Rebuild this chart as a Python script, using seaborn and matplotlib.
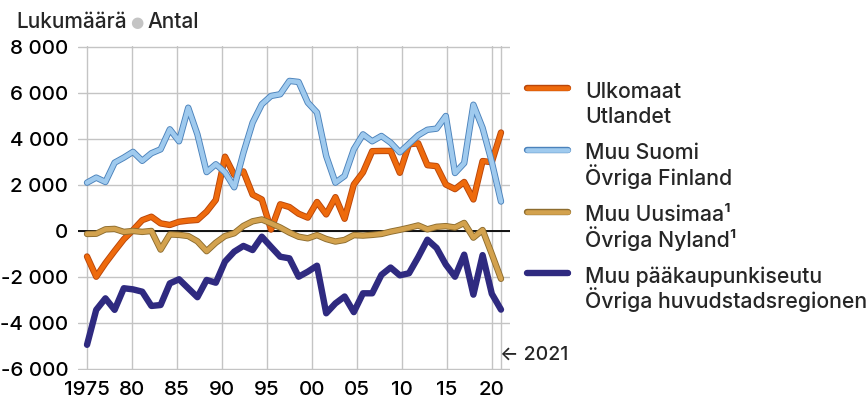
import numpy as np
import pandas as pd
import matplotlib
matplotlib.use("Agg")
import matplotlib.pyplot as plt
import matplotlib.patheffects as pe
from matplotlib.lines import Line2D
import seaborn as sns

# Net migration by area, persons
series_fi = ["Ulkomaat", "Muu Suomi", "Muu Uusimaa¹", "Muu pääkaupunkiseutu"]
series_sv = ["Utlandet", "Övriga Finland", "Övriga Nyland¹", "Övriga huvudstadsregionen"]

ulkomaat = [-1110, -1990, -1400, -870, -360, 40, 470, 620, 330, 260,
            400, 450, 480, 840, 1350, 3230, 2440, 2590, 1580, 1370,
            60, 1160, 1040, 750, 580, 1260, 720, 1470, 530, 2020,
            2550, 3470, 3480, 3480, 2530, 3770, 3810, 2860, 2820, 2020,
            1820, 2130, 1370, 3040, 2990, 4280]
muu_suomi = [2100, 2320, 2130, 2970, 3190, 3440, 3050, 3380, 3550, 4420,
             3900, 5360, 4200, 2560, 2900, 2550, 1900, 3400, 4710, 5510,
             5870, 5945, 6525, 6480, 5580, 5150, 3260, 2100, 2390, 3550,
             4200, 3900, 4130, 3840, 3420, 3790, 4160, 4400, 4450, 5000,
             2520, 2950, 5490, 4480, 3000, 1280]
muu_uusimaa = [-130, -120, 70, 90, -40, 0, -40, 0, -810, -150,
               -170, -220, -450, -880, -510, -220, -100, 220, 420, 500,
               330, 150, -70, -250, -320, -180, -350, -460, -390, -180,
               -200, -170, -130, -30, 50, 140, 240, 70, 180, 210,
               150, 350, -290, 40, -1000, -2080]
muu_pks = [-4950, -3430, -2930, -3430, -2490, -2540, -2640, -3260, -3220, -2280,
           -2100, -2490, -2880, -2130, -2250, -1330, -900, -650, -830, -250,
           -690, -1120, -1190, -1990, -1770, -1510, -3580, -3150, -2850, -3530,
           -2710, -2710, -1910, -1590, -1930, -1840, -1140, -380, -740, -1460,
           -1990, -1030, -2770, -1050, -2730, -3420]

tick_years = [1975, 1980, 1985, 1990, 1995, 2000, 2005, 2010, 2015, 2020]
tick_labels = ["1975", "80", "85", "90", "95", "00", "05", "10", "15", "20"]
y_ticks = [-6000, -4000, -2000, 0, 2000, 4000, 6000, 8000]
first_year, last_year = 1975, 2021

core_colors = ["#ee6a0c", "#9fcaee", "#d3a24e", "#2f2a80"]
edge_colors = ["#b9460a", "#4b82bb", "#8d6c2e", "#2f2a80"]
grid_color = "#c4c4c4"

# the points are spread evenly from the 1975 line to the 2021 line
x = np.linspace(first_year, last_year, len(ulkomaat))
df = pd.DataFrame({
    "x": np.tile(x, 4),
    "value": ulkomaat + muu_suomi + muu_uusimaa + muu_pks,
    "series": np.repeat(series_fi, len(x)),
})

sns.set_style("white")
plt.rcParams["font.family"] = ["Inter", "DejaVu Sans"]
plt.rcParams["font.weight"] = 500

fig = plt.figure(figsize=(8.66, 4.03), dpi=100)
ax = fig.add_axes([0.0901, 0.0822, 0.4988, 0.8035])

sns.lineplot(data=df, x="x", y="value", hue="series", hue_order=series_fi,
             palette=dict(zip(series_fi, core_colors)), linewidth=3.3,
             sort=False, legend=False, ax=ax)
for line, edge in zip(ax.lines, edge_colors):
    line.set_path_effects([pe.Stroke(linewidth=4.6, foreground=edge), pe.Normal()])

ax.set_xlim(1974, 2022)
ax.set_ylim(-6040, 8040)
ax.set_xticks(tick_years)
ax.set_xticklabels(tick_labels)
ax.set_xticks([last_year], minor=True)
ax.set_yticks(y_ticks)
ax.set_yticklabels([f"{v:,}".replace(",", " ") for v in y_ticks])
ax.grid(which="both", axis="x", color=grid_color, lw=1.0)
ax.grid(which="major", axis="y", color=grid_color, lw=1.0)
ax.set_axisbelow(True)
ax.axhline(0, color="black", lw=1.3, zorder=1.5)
ax.tick_params(which="both", length=0, labelsize=14.8, colors="black")
ax.tick_params(axis="y", pad=7)
ax.tick_params(axis="x", pad=8)
for s in ax.spines.values():
    s.set_visible(False)
ax.set_xlabel("")
ax.set_ylabel("")

# unit title
t1 = fig.text(16.5 / 866, 1 - 27.7 / 403, "Lukumäärä", fontsize=15, va="baseline")
t2 = ax.annotate("●", xy=(1, 0), xycoords=t1, xytext=(2.5, 1.5), textcoords="offset points",
                 fontsize=11, color="#c4c4c4", va="bottom", family="DejaVu Sans")
ax.annotate("Antal", xy=(1, 0), xycoords=t2, xytext=(2.5, -1.5), textcoords="offset points",
            fontsize=15, va="bottom")

# legend drawn by hand: line sample next to two text lines
for i, (fi, sv, col, edge) in enumerate(zip(series_fi, series_sv, core_colors, edge_colors)):
    base = 97.7 + i * 61.7
    y_line = 1 - (base - 9.5) / 403
    ln = Line2D([527 / 866, 568 / 866], [y_line, y_line], transform=fig.transFigure,
                color=col, lw=3.3, solid_capstyle="round")
    ln.set_path_effects([pe.Stroke(linewidth=4.6, foreground=edge, capstyle="round"),
                         pe.Normal()])
    fig.add_artist(ln)
    fig.text(585 / 866, 1 - base / 403, fi, fontsize=15.3, va="baseline")
    fig.text(585 / 866, 1 - (base + 25.6) / 403, sv, fontsize=15.3, va="baseline")

fig.text(500 / 866, 1 - 360 / 403, "← 2021", fontsize=14, va="baseline")

fig.savefig("out.png", dpi=100)
